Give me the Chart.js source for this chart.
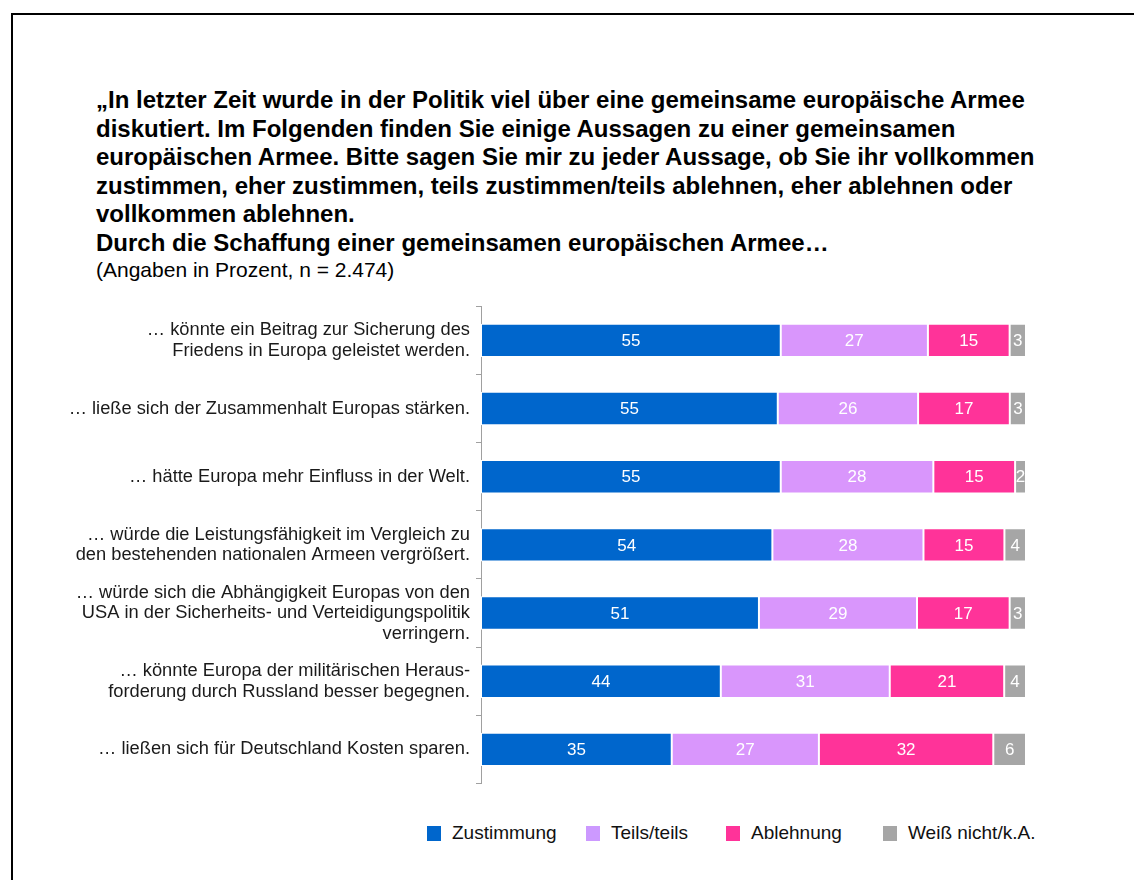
<!DOCTYPE html>
<html>
<head>
<meta charset="utf-8">
<script src="https://cdn.jsdelivr.net/npm/chart.js@4/dist/chart.umd.min.js"></script>
<style>
  html, body { margin: 0; padding: 0; background: #fff; overflow: hidden; }
  body { width: 1134px; height: 880px; position: relative; font-family: "Liberation Sans", Arial, sans-serif; color: #000; }
  #frame { position: absolute; left: 11px; top: 13px; width: 1200px; height: 1000px; border: 2px solid #000; }
  #title { position: absolute; left: 96px; top: 86px; font-weight: bold; font-size: 24px; line-height: 28.6px; white-space: nowrap; }
  #sub { position: absolute; left: 96px; top: 258px; font-size: 21px; line-height: 24px; }
  #wrap { position: absolute; left: 0; top: 290px; width: 1134px; height: 520px; }
  .lg { position: absolute; top: 823px; font-size: 19px; line-height: 20px; display: flex; align-items: center; color: #111; }
  .lg span.sw { display: inline-block; width: 14px; height: 15px; margin-right: 11px; }
</style>
</head>
<body>
<div id="frame"></div>
<div id="title">„In letzter Zeit wurde in der Politik viel über eine gemeinsame europäische Armee<br>diskutiert. Im Folgenden finden Sie einige Aussagen zu einer gemeinsamen<br>europäischen Armee. Bitte sagen Sie mir zu jeder Aussage, ob Sie ihr vollkommen<br>zustimmen, eher zustimmen, teils zustimmen/teils ablehnen, eher ablehnen oder<br>vollkommen ablehnen.<br>Durch die Schaffung einer gemeinsamen europäischen Armee…</div>
<div id="sub">(Angaben in Prozent, n = 2.474)</div>
<div id="wrap"><canvas id="chart"></canvas></div>
<div id="legend"></div>
<script>
// categories (multi-line labels)
const categories = [
  ['… könnte ein Beitrag zur Sicherung des', 'Friedens in Europa geleistet werden.'],
  '… ließe sich der Zusammenhalt Europas stärken.',
  '… hätte Europa mehr Einfluss in der Welt.',
  ['… würde die Leistungsfähigkeit im Vergleich zu', 'den bestehenden nationalen Armeen vergrößert.'],
  ['… würde sich die Abhängigkeit Europas von den', 'USA in der Sicherheits- und Verteidigungspolitik', 'verringern.'],
  ['… könnte Europa der militärischen Heraus-', 'forderung durch Russland besser begegnen.'],
  '… ließen sich für Deutschland Kosten sparen.'
];

const seriesNames = ['Zustimmung', 'Teils/teils', 'Ablehnung', 'Weiß nicht/k.A.'];
const zustimmung = [55, 55, 55, 54, 51, 44, 35];
const teilsTeils = [27, 26, 28, 28, 29, 31, 27];
const ablehnung = [15, 17, 15, 15, 17, 21, 32];
const weissNicht = [3, 3, 2, 4, 3, 4, 6];

const colors = ['#0066cc', '#d996fc', '#ff3399', '#a6a6a6'];
const legendColors = ['#0066cc', '#cc99ff', '#ff3399', '#a6a6a6'];
const legendLeft = [427, 586, 726, 883];

const values = [zustimmung, teilsTeils, ablehnung, weissNicht];

// rounded shares do not always add up to 100, the bars are drawn as 100 % stacks
const rowTotals = categories.map((c, j) => values.reduce((s, arr) => s + arr[j], 0));

// value labels inside each segment
const segmentLabels = {
  id: 'segmentLabels',
  afterDatasetsDraw(chart) {
    const ctx = chart.ctx;
    ctx.save();
    ctx.fillStyle = '#fff';
    ctx.font = '17px "Liberation Sans", Arial, sans-serif';
    ctx.textAlign = 'center';
    ctx.textBaseline = 'middle';
    chart.data.datasets.forEach((ds, i) => {
      chart.getDatasetMeta(i).data.forEach((el, j) => {
        const cx = (el.x + el.base) / 2;
        ctx.fillText(String(values[i][j]), cx, el.y + 1);
      });
    });
    ctx.restore();
  }
};

new Chart(document.getElementById('chart'), {
  type: 'bar',
  data: {
    labels: categories,
    datasets: seriesNames.map((name, i) => ({
      label: name,
      data: values[i].map((v, j) => v * 100 / rowTotals[j]),
      backgroundColor: colors[i],
      borderColor: '#ffffff',
      borderWidth: 1,
      borderSkipped: false,
      barPercentage: 0.49,
      categoryPercentage: 1
    }))
  },
  options: {
    indexAxis: 'y',
    responsive: true,
    maintainAspectRatio: false,
    animation: false,
    layout: { padding: { top: 14, bottom: 16, right: 108 } },
    plugins: {
      legend: { display: false },
      tooltip: { enabled: false }
    },
    scales: {
      x: {
        stacked: true,
        min: 0,
        max: 100,
        display: false
      },
      y: {
        stacked: true,
        afterFit(scale) { scale.width = 481; },
        border: { display: true, color: '#a0a0a0', width: 1 },
        grid: { display: true, drawOnChartArea: false, drawTicks: true, tickLength: 5, color: '#a0a0a0', offset: true },
        ticks: {
          color: '#1a1a1a',
          padding: 6,
          font: { family: '"Liberation Sans", Arial, sans-serif', size: 18.3, lineHeight: 1.12 }
        }
      }
    }
  },
  plugins: [segmentLabels]
});

// legend
const legend = document.getElementById('legend');
seriesNames.forEach((name, i) => {
  const d = document.createElement('div');
  d.className = 'lg';
  d.style.left = legendLeft[i] + 'px';
  d.innerHTML = '<span class="sw" style="background:' + legendColors[i] + '"></span>' + name;
  legend.appendChild(d);
});
</script>
</body>
</html>
